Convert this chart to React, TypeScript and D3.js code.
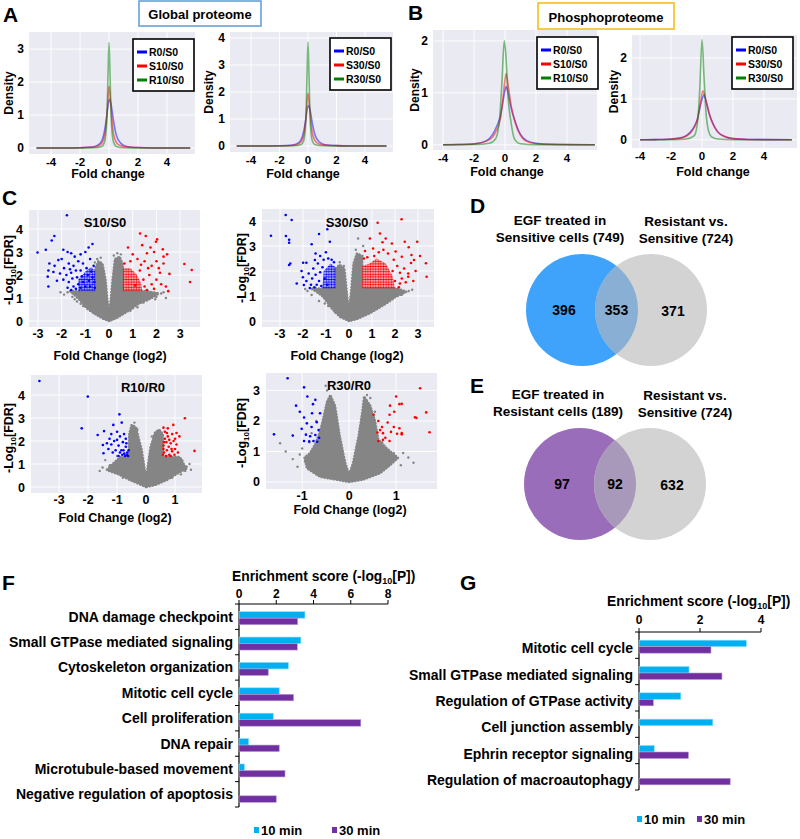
import React from 'react';
import * as d3 from 'd3';

type Pt = [number, number];

const FONT = "'Liberation Sans', Arial, Helvetica, sans-serif";
const BG = '#eaeaf2';
const LINE_COLORS = ['#0000ff', '#ff0000', '#008000'];
const BAR10 = '#00b0f0';
const BAR30 = '#7030a0';
const GRAY = '#858585';

// ---------- density curves (fold change, density) ----------
const aLeftR0: Pt[] = [[-5, 0], [-3, 0.003], [-2, 0.01], [-1.2, 0.03], [-0.8, 0.08], [-0.5, 0.22], [-0.3, 0.55], [-0.15, 1.0], [-0.05, 1.35], [0.05, 1.48], [0.15, 1.3], [0.3, 0.85], [0.5, 0.4], [0.8, 0.15], [1.2, 0.05], [2, 0.015], [3, 0.004], [5.6, 0]];
const aLeftS10: Pt[] = [[-5, 0], [-3, 0.003], [-2, 0.01], [-1, 0.03], [-0.6, 0.1], [-0.35, 0.3], [-0.2, 0.7], [-0.1, 1.3], [0, 1.88], [0.1, 1.45], [0.2, 0.85], [0.35, 0.35], [0.6, 0.12], [1, 0.05], [2, 0.015], [3, 0.004], [5.6, 0]];
const aLeftR10: Pt[] = [[-5, 0], [-2, 0.003], [-1, 0.01], [-0.5, 0.05], [-0.3, 0.2], [-0.15, 0.9], [-0.07, 2.2], [0, 3.2], [0.07, 2.2], [0.15, 0.9], [0.3, 0.2], [0.5, 0.05], [1, 0.01], [2, 0.003], [5.6, 0]];
const aRightR0: Pt[] = [[-5, 0], [-3, 0.003], [-2, 0.01], [-1.2, 0.03], [-0.8, 0.08], [-0.5, 0.22], [-0.3, 0.55], [-0.15, 1.0], [-0.05, 1.38], [0.05, 1.5], [0.15, 1.32], [0.3, 0.85], [0.5, 0.4], [0.8, 0.15], [1.2, 0.05], [2, 0.015], [3, 0.004], [5.5, 0]];
const aRightS30: Pt[] = [[-5, 0], [-3, 0.003], [-2, 0.01], [-1, 0.03], [-0.6, 0.1], [-0.35, 0.3], [-0.2, 0.75], [-0.1, 1.4], [0, 1.95], [0.1, 1.5], [0.2, 0.9], [0.35, 0.38], [0.6, 0.13], [1, 0.05], [2, 0.015], [3, 0.004], [5.5, 0]];
const aRightR30: Pt[] = [[-5, 0], [-2, 0.003], [-1, 0.01], [-0.5, 0.05], [-0.3, 0.2], [-0.15, 1.0], [-0.07, 2.6], [0, 3.85], [0.07, 2.6], [0.15, 1.0], [0.3, 0.2], [0.5, 0.05], [1, 0.01], [2, 0.003], [5.5, 0]];
const bLeftR0: Pt[] = [[-4, 0], [-3, 0.005], [-2, 0.02], [-1.2, 0.08], [-0.8, 0.2], [-0.5, 0.38], [-0.3, 0.55], [-0.15, 0.8], [0, 1.05], [0.07, 1.12], [0.2, 1.0], [0.4, 0.7], [0.65, 0.45], [1, 0.2], [1.4, 0.08], [2, 0.03], [3, 0.01], [5.8, 0]];
const bLeftS10: Pt[] = [[-4, 0], [-3, 0.005], [-2, 0.015], [-1, 0.1], [-0.6, 0.25], [-0.3, 0.5], [-0.15, 0.85], [0, 1.25], [0.07, 1.37], [0.2, 1.15], [0.4, 0.75], [0.64, 0.45], [1, 0.18], [1.3, 0.08], [2, 0.02], [3, 0.005], [5.8, 0]];
const bLeftR10: Pt[] = [[-4, 0], [-2, 0.005], [-1, 0.03], [-0.6, 0.12], [-0.35, 0.5], [-0.2, 1.2], [-0.05, 2.0], [0.05, 1.75], [0.2, 0.9], [0.38, 0.45], [0.6, 0.12], [1, 0.02], [2, 0.003], [5.8, 0]];
const bRightR0: Pt[] = [[-4, 0], [-3, 0.005], [-2, 0.02], [-1.2, 0.07], [-0.8, 0.17], [-0.5, 0.33], [-0.3, 0.5], [-0.1, 0.85], [0.05, 1.05], [0.12, 1.1], [0.25, 0.95], [0.45, 0.65], [0.7, 0.4], [1, 0.2], [1.5, 0.07], [2, 0.03], [3, 0.008], [5.8, 0]];
const bRightS30: Pt[] = [[-4, 0], [-3, 0.005], [-2, 0.02], [-1.2, 0.06], [-0.8, 0.15], [-0.5, 0.3], [-0.3, 0.5], [-0.1, 0.9], [0.05, 1.2], [0.15, 1.12], [0.3, 0.9], [0.5, 0.6], [0.75, 0.35], [1, 0.2], [1.5, 0.08], [2, 0.03], [3, 0.008], [5.8, 0]];
const bRightR30: Pt[] = [[-4, 0], [-2, 0.005], [-1, 0.02], [-0.5, 0.1], [-0.3, 0.4], [-0.15, 1.2], [0, 2.45], [0.12, 1.6], [0.25, 0.7], [0.4, 0.25], [0.6, 0.08], [1, 0.02], [2, 0.003], [5.8, 0]];

// ---------- volcano plots (log2 FC, -log10 FDR) ----------
const s10Cloud: Pt[] = [[0, 0], [-0.25, 0.1], [-0.52, 0.26], [-0.94, 0.55], [-1.22, 0.9], [-1.45, 1.12], [-1.65, 1.3], [-0.58, 1.3], [-0.58, 2.3], [-0.45, 2.6], [-0.28, 2.5], [-0.15, 1.8], [-0.07, 0.9], [0, 0.38], [0.07, 0.9], [0.15, 1.8], [0.25, 2.7], [0.45, 2.8], [0.58, 2.45], [0.58, 1.3], [1.6, 1.3], [2.1, 1.2], [1.8, 1.0], [1.3, 0.78], [0.75, 0.4], [0.3, 0.12]];
const s10Gray: Pt[] = [[-1.75, 1.25], [-1.55, 1.05], [-1.35, 0.85], [-1.1, 0.65], [-0.8, 0.45], [-1.9, 1.15], [2.2, 1.2], [2.0, 1.05], [1.6, 0.9], [1.2, 0.6], [0.9, 0.45], [-0.35, 2.75], [0.35, 2.95], [0.2, 2.85], [-0.5, 2.7], [2.4, 1.0], [1.75, 1.2], [-1.45, 0.95], [-1.2, 0.75], [-0.65, 0.35], [1.45, 0.8], [1.0, 0.55], [0.55, 0.3], [-2.05, 1.25], [2.3, 1.25], [1.95, 0.95], [-0.6, 2.55], [0.5, 2.9]];
const s10BlueCore: Pt[] = [[-1.3, 1.3], [-0.58, 1.3], [-0.58, 2.15], [-0.75, 2.35], [-1.0, 2.15], [-1.3, 1.8]];
const s10RedCore: Pt[] = [[0.58, 1.3], [1.4, 1.3], [1.35, 1.65], [1.15, 2.05], [0.9, 2.3], [0.58, 2.3]];
const s10Blue: Pt[] = [[-1.78, 4.6], [-2.31, 3.7], [-2.42, 3.5], [-3.02, 2.98], [-2.67, 3.1], [-1.93, 3.1], [-1.75, 3.0], [-0.7, 3.35], [-0.86, 3.2], [-2.52, 2.5], [-2.56, 2.2], [-2.59, 1.93], [-2.56, 1.5], [-2.14, 2.65], [-2.3, 2.4], [-2.07, 2.07], [-1.93, 1.8], [-2.2, 1.75], [-1.6, 2.95], [-1.45, 2.8], [-1.2, 2.9], [-1.0, 3.0], [-1.3, 2.6], [-1.7, 2.5], [-1.9, 2.3], [-1.5, 2.4], [-1.1, 2.5], [-0.8, 2.7], [-0.65, 2.4], [-1.8, 2.0], [-1.6, 2.1], [-1.4, 2.2], [-1.2, 2.2], [-0.95, 2.3], [-0.75, 2.15], [-1.7, 1.7], [-1.55, 1.85], [-1.35, 1.9], [-1.15, 1.95], [-0.9, 2.0], [-0.7, 1.9], [-1.75, 1.45], [-1.5, 1.5], [-1.3, 1.6], [-1.1, 1.7], [-0.85, 1.75], [-0.62, 1.7], [-1.6, 1.35], [-1.4, 1.4], [-1.2, 1.45], [-1.0, 1.5], [-0.8, 1.5], [-0.6, 1.45], [-2.35, 2.13], [-2.0, 2.7], [-1.65, 2.25]];
const s10Red: Pt[] = [[1.31, 3.81], [1.55, 3.7], [1.98, 3.45], [2.03, 3.55], [2.27, 3.12], [1.9, 3.0], [1.6, 2.95], [1.75, 3.2], [2.3, 2.8], [2.45, 2.9], [2.3, 2.5], [2.55, 2.05], [2.15, 2.1], [1.8, 2.4], [1.5, 2.6], [1.2, 2.7], [1.0, 2.9], [0.8, 3.2], [1.3, 2.2], [1.7, 2.0], [2.0, 1.8], [2.4, 1.5], [2.5, 1.3], [1.5, 1.5], [1.8, 1.6], [2.2, 1.6], [1.45, 1.8], [1.1, 1.55], [0.65, 2.5], [0.9, 2.6], [3.18, 2.48], [3.49, 2.22], [3.42, 1.7], [1.65, 2.3], [2.0, 2.6], [1.4, 3.3], [1.6, 1.35], [1.9, 1.4], [2.1, 2.3], [1.35, 2.45]];

const s30Cloud: Pt[] = [[0, 0], [-0.4, 0.17], [-0.75, 0.51], [-1.12, 0.97], [-1.45, 1.2], [-1.65, 1.3], [-0.58, 1.3], [-0.58, 2.1], [-0.4, 2.25], [-0.2, 2.1], [-0.1, 1.2], [0, 0.4], [0.1, 1.2], [0.2, 2.3], [0.35, 2.7], [0.58, 2.6], [0.58, 1.3], [2.1, 1.3], [2.5, 1.17], [2.0, 0.95], [1.64, 0.71], [0.91, 0.31], [0.33, 0.07]];
const s30Gray: Pt[] = [[-1.62, 1.04], [-1.8, 1.2], [-1.3, 0.8], [-0.22, 2.2], [0.4, 3.3], [0.62, 3.0], [2.6, 1.2], [2.3, 1.05], [1.9, 0.9], [1.3, 0.55], [-0.9, 0.6], [-0.4, 2.35], [0.3, 2.85], [-1.05, 0.7], [-0.6, 0.35], [1.1, 0.45], [0.6, 0.25], [1.75, 0.9], [2.2, 1.2], [-1.9, 1.28], [2.75, 1.25]];
const s30BlueCore: Pt[] = [[-1.15, 1.3], [-0.58, 1.3], [-0.58, 2.15], [-0.8, 2.3], [-1.1, 2.0]];
const s30RedCore: Pt[] = [[0.58, 1.3], [2.0, 1.3], [1.9, 1.8], [1.6, 2.3], [1.2, 2.5], [0.9, 2.3], [0.58, 2.2]];
const s30Blue: Pt[] = [[-2.75, 4.24], [-3.39, 3.41], [-2.74, 3.4], [-2.49, 4.04], [-2.6, 3.25], [-2.6, 3.13], [-2.6, 2.24], [-2.55, 2.3], [-2.27, 1.5], [-1.99, 2.33], [-1.85, 2.33], [-2.06, 2.0], [-1.96, 1.44], [-1.7, 1.32], [-1.48, 2.44], [-1.62, 3.07], [-1.45, 2.7], [-1.3, 3.48], [-0.94, 3.67], [-0.83, 3.17], [-1.75, 1.9], [-1.6, 1.7], [-1.55, 2.1], [-1.35, 2.3], [-1.25, 2.6], [-1.1, 2.45], [-1.0, 2.75], [-0.9, 2.5], [-0.75, 2.45], [-1.3, 1.6], [-1.4, 1.45], [-1.2, 1.4], [-1.25, 1.95], [-1.05, 1.7], [-0.65, 2.35], [-1.5, 1.35], [-1.85, 1.6], [-2.0, 1.75], [-1.15, 2.15], [-0.95, 1.45], [-1.45, 1.85], [-1.65, 1.45]];
const s30Red: Pt[] = [[1.25, 3.93], [2.29, 4.07], [1.46, 3.15], [1.87, 3.1], [2.43, 3.17], [2.03, 2.78], [2.3, 2.57], [2.22, 1.93], [2.58, 1.9], [2.47, 1.55], [2.17, 1.35], [0.91, 3.3], [2.97, 3.17], [3.09, 2.6], [2.83, 2.44], [2.7, 2.32], [3.35, 2.31], [3.38, 1.77], [2.58, 1.77], [2.22, 1.5], [2.72, 2.64], [1.7, 2.7], [1.5, 2.85], [1.3, 2.75], [1.1, 2.6], [0.8, 2.55], [0.65, 2.5], [1.95, 2.45], [2.1, 2.2], [2.4, 2.1], [2.0, 1.6], [2.3, 1.7], [1.9, 2.0], [1.05, 2.9], [1.6, 3.3], [1.35, 3.5], [2.6, 2.95], [0.7, 2.8], [2.8, 1.6], [2.9, 2.0]];

const r10Cloud: Pt[] = [[0, 0], [-0.55, 0.3], [-0.95, 0.55], [-1.36, 0.74], [-1.13, 1.03], [-0.9, 1.3], [-0.6, 1.3], [-0.58, 2.3], [-0.5, 2.7], [-0.35, 2.6], [-0.15, 1.6], [-0.05, 0.8], [0, 0.35], [0.05, 0.8], [0.15, 1.7], [0.3, 2.35], [0.45, 2.5], [0.58, 2.3], [0.58, 1.3], [1.17, 1.3], [1.3, 1.0], [1.4, 0.81], [1.1, 0.6], [0.71, 0.3], [0.3, 0.08]];
const r10Gray: Pt[] = [[-1.41, 1.17], [-1.14, 0.83], [1.4, 0.88], [1.35, 0.7], [-1.6, 0.7], [-0.45, 2.65], [0.37, 2.4], [-1.25, 0.95], [1.5, 1.0], [1.25, 1.15], [-0.3, 2.5], [0.2, 2.2], [-0.9, 1.2], [-1.0, 1.35], [-1.5, 0.85], [-0.8, 0.4], [0.9, 0.4], [1.2, 0.55], [1.55, 0.75], [-0.4, 2.8]];
const r10BlueCore: Pt[] = [];
const r10RedCore: Pt[] = [];
const r10Blue: Pt[] = [[-3.68, 4.61], [-2.01, 3.93], [-2.22, 2.55], [-1.67, 2.26], [-1.45, 2.43], [-0.92, 3.16], [-0.84, 2.8], [-1.13, 2.7], [-1.49, 1.83], [-1.47, 1.47], [-1.26, 2.1], [-1.2, 1.85], [-1.1, 2.0], [-1.0, 2.05], [-0.95, 1.8], [-0.9, 2.2], [-0.85, 1.6], [-0.8, 1.95], [-0.75, 1.45], [-0.7, 1.75], [-0.65, 1.5], [-0.62, 1.35], [-0.72, 1.35], [-0.82, 1.4], [-0.9, 1.5], [-1.05, 1.6], [-1.15, 1.5], [-1.3, 1.65], [-0.7, 2.1], [-0.78, 1.6], [-0.68, 1.9], [-0.95, 1.35], [-1.0, 2.4], [-1.2, 2.3], [-0.6, 1.6], [-0.66, 1.4], [-1.35, 1.9], [-0.76, 2.3]];
const r10Red: Pt[] = [[1.34, 2.99], [1.67, 1.57], [0.94, 2.7], [0.6, 2.58], [0.65, 2.4], [0.75, 2.2], [0.9, 2.3], [1.0, 2.1], [1.05, 1.85], [0.85, 1.9], [0.7, 1.95], [0.6, 1.8], [0.62, 1.5], [0.72, 1.6], [0.8, 1.4], [0.9, 1.55], [1.0, 1.65], [0.68, 1.35], [0.58, 1.4], [0.78, 1.75], [0.95, 2.0], [1.1, 1.5], [0.65, 2.1], [0.85, 1.35], [0.7, 1.35], [0.62, 1.95], [0.8, 2.05], [1.05, 2.35], [0.75, 2.55], [0.88, 1.65], [0.98, 1.4], [0.6, 1.65], [1.15, 2.2], [0.72, 2.35]];

const r30Cloud: Pt[] = [[0, 0], [-0.62, 0.17], [-0.9, 0.45], [-0.95, 0.8], [-0.83, 0.95], [-0.72, 1.25], [-0.62, 1.65], [-0.55, 2.09], [-0.47, 2.63], [-0.4, 2.85], [-0.3, 2.5], [-0.2, 1.5], [-0.08, 0.6], [0, 0.25], [0.08, 0.6], [0.2, 1.5], [0.28, 2.3], [0.32, 2.8], [0.45, 2.5], [0.55, 2.0], [0.62, 1.4], [0.8, 1.1], [1.04, 0.79], [0.87, 0.55], [0.66, 0.29], [0.3, 0.08]];
const r30Gray: Pt[] = [[-1.47, 1.27], [-1.35, 1.0], [-0.94, 0.67], [1.26, 0.8], [1.37, 0.63], [-0.47, 3.0], [0.38, 2.85], [0.45, 2.75], [-1.05, 0.9], [1.15, 0.95], [-0.85, 1.3], [-0.5, 3.15], [-1.0, 1.1], [0.7, 1.3], [0.55, 2.3], [-1.1, 0.5], [-0.8, 1.6], [-0.7, 2.0], [1.1, 0.55], [0.95, 0.95], [-1.2, 0.75]];
const r30BlueCore: Pt[] = [];
const r30RedCore: Pt[] = [];
const r30Blue: Pt[] = [[-1.31, 3.4], [-0.96, 3.1], [-1.6, 1.56], [-1.13, 2.5], [-1.2, 1.52], [-0.89, 2.8], [-0.72, 2.69], [-0.77, 2.55], [-0.96, 2.11], [-0.9, 1.92], [-0.79, 2.25], [-0.62, 2.25], [-0.69, 1.96], [-1.01, 1.74], [-0.72, 1.54], [-0.76, 1.34], [-0.96, 1.34], [-0.85, 1.33], [-0.68, 1.32], [-0.64, 1.45], [-0.83, 1.5], [-0.92, 1.55], [-0.8, 1.8], [-0.65, 1.7], [-1.05, 2.3]];
const r30Red: Pt[] = [[1.0, 2.8], [1.07, 2.55], [0.87, 2.5], [0.96, 2.3], [0.86, 2.2], [0.52, 2.2], [0.62, 2.0], [0.7, 1.8], [0.82, 1.95], [0.66, 1.7], [0.72, 1.6], [0.6, 1.62], [0.89, 1.64], [0.95, 1.8], [1.02, 1.58], [1.07, 1.76], [1.12, 1.56], [0.77, 1.45], [0.86, 1.34], [0.62, 1.34], [0.72, 1.38], [1.51, 3.07], [1.64, 2.28], [1.4, 2.12], [1.43, 2.1], [1.71, 1.63], [1.12, 1.6], [1.12, 2.56]];

// ---------- Venn counts ----------
const vennD = [396, 353, 371];
const vennE = [97, 92, 632];

// ---------- GO enrichment (-log10 P) ----------
const fTerms = ['DNA damage checkpoint', 'Small GTPase mediated signaling', 'Cytoskeleton organization', 'Mitotic cell cycle', 'Cell proliferation', 'DNA repair', 'Microtubule-based movement', 'Negative regulation of apoptosis'];
const f10 = [3.54, 3.32, 2.65, 2.16, 1.84, 0.52, 0.29, 0];
const f30 = [3.15, 3.13, 1.57, 2.93, 6.54, 2.16, 2.47, 2.0];
const fTicks = [0, 2, 4, 6, 8];
const gTerms = ['Mitotic cell cycle', 'Small GTPase mediated signaling', 'Regulation of GTPase activity', 'Cell junction assembly', 'Ephrin receptor signaling', 'Regulation of macroautophagy'];
const g10 = [3.52, 1.64, 1.37, 2.42, 0.5, 0];
const g30 = [2.36, 2.72, 0.47, 0, 1.62, 2.99];
const gTicks = [0, 2, 4];

const B = { fontFamily: FONT, fontWeight: 700 } as const;

function Density({ bx, by, xDom, yDom, yTicks, series, labels, legend, yLabX, xLab }: any) {
  const x = d3.scaleLinear().domain(xDom).range(bx);
  const y = d3.scaleLinear().domain(yDom).range([by[1], by[0]]);
  const line = d3.line<Pt>().x(d => x(d[0])).y(d => y(d[1])).curve(d3.curveMonotoneX);
  const xTicks = [-4, -2, 0, 2, 4];
  return (
    <g>
      <rect x={bx[0]} y={by[0]} width={bx[1] - bx[0]} height={by[1] - by[0]} fill={BG} />
      {xTicks.map(t => <line key={'gx' + t} x1={x(t)} x2={x(t)} y1={by[0]} y2={by[1]} stroke="#fff" strokeWidth={0.9} />)}
      {yTicks.map((t: number) => <line key={'gy' + t} x1={bx[0]} x2={bx[1]} y1={y(t)} y2={y(t)} stroke="#fff" strokeWidth={0.9} />)}
      {series.map((s: Pt[], i: number) => (
        <path key={i} d={line(s) || ''} fill="none" stroke={LINE_COLORS[i]} strokeOpacity={0.5} strokeWidth={1.6} />
      ))}
      {xTicks.map(t => <text key={'tx' + t} x={x(t)} y={by[1] + 11.5} textAnchor="middle" fontSize={11.5} {...B}>{t}</text>)}
      {yTicks.map((t: number) => <text key={'ty' + t} x={bx[0] - 5} y={y(t)} dy="0.36em" textAnchor="end" fontSize={12} {...B}>{t}</text>)}
      <text transform={`translate(${yLabX},${(by[0] + by[1]) / 2}) rotate(-90)`} dy="0.36em" textAnchor="middle" fontSize={12} {...B}>Density</text>
      <text x={xLab[0]} y={xLab[1] + 5.5} textAnchor="middle" fontSize={12.5} {...B}>Fold change</text>
      <rect x={legend[0]} y={legend[1]} width={61} height={52} fill="#fff" stroke="#000" strokeWidth={1.6} />
      {labels.map((l: string, i: number) => (
        <g key={l}>
          <line x1={legend[0] + 4} x2={legend[0] + 14} y1={legend[1] + 13 + i * 14} y2={legend[1] + 13 + i * 14} stroke={LINE_COLORS[i]} strokeWidth={3} />
          <text x={legend[0] + 16} y={legend[1] + 13 + i * 14} dy="0.36em" fontSize={10.5} {...B}>{l}</text>
        </g>
      ))}
    </g>
  );
}

function Volcano({ c }: any) {
  const x = d3.scaleLinear().domain(c.xDom).range(c.bx);
  const y = d3.scaleLinear().domain(c.yDom).range([c.by[1], c.by[0]]);
  const poly = d3.line<Pt>().x(d => x(d[0])).y(d => y(d[1])).curve(d3.curveLinearClosed);
  const dots = (pts: Pt[], col: string, r: number, k: string) =>
    pts.map((p, i) => <circle key={k + i} cx={x(p[0])} cy={y(p[1])} r={r} fill={col} />);
  return (
    <g>
      <rect x={c.bx[0]} y={c.by[0]} width={c.bx[1] - c.bx[0]} height={c.by[1] - c.by[0]} fill={BG} />
      {c.xTicks.map((t: number) => <line key={'gx' + t} x1={x(t)} x2={x(t)} y1={c.by[0]} y2={c.by[1]} stroke="#fff" strokeWidth={0.9} />)}
      {c.yTicks.map((t: number) => <line key={'gy' + t} x1={c.bx[0]} x2={c.bx[1]} y1={y(t)} y2={y(t)} stroke="#fff" strokeWidth={0.9} />)}
      <path d={poly(c.cloud) || ''} fill={GRAY} stroke={GRAY} strokeWidth={1} strokeLinejoin="round" />
      <path d={poly(c.cloud) || ''} fill="none" stroke={GRAY} strokeWidth={2.6} strokeDasharray="0.1 3" strokeLinecap="round" />
      {dots(c.gray, GRAY, 1.2, 'g')}
      {c.blueCore.length > 0 && <path d={poly(c.blueCore) || ''} fill="url(#dotBlue)" />}
      {c.redCore.length > 0 && <path d={poly(c.redCore) || ''} fill="url(#dotRed)" />}
      {dots(c.blue, '#0000ff', 1.3, 'b')}
      {dots(c.red, '#ff0000', 1.3, 'r')}
      <text x={c.title[0]} y={c.title[1]} dy="0.36em" textAnchor="middle" fontSize={13} {...B}>{c.name}</text>
      {c.xTicks.map((t: number) => <text key={'tx' + t} x={x(t)} y={c.by[1] + 11} textAnchor="middle" fontSize={12.5} {...B}>{t}</text>)}
      {c.yTicks.map((t: number) => <text key={'ty' + t} x={c.bx[0] - 6} y={y(t)} dy="0.36em" textAnchor="end" fontSize={12.5} {...B}>{t}</text>)}
      <text transform={`translate(${c.yLab[0]},${c.yLab[1]}) rotate(-90)`} dy="0.36em" textAnchor="middle" fontSize={12.5} {...B}>
        -Log<tspan fontSize={8} dy={3}>10</tspan><tspan dy={-3}>[FDR]</tspan>
      </text>
      <text x={c.xLab[0]} y={c.xLab[1]} dy="0.36em" textAnchor="middle" fontSize={12.5} {...B}>Fold Change (log2)</text>
    </g>
  );
}

function Venn({ cx, cy, fill, overlap, counts, titleL, titleR, id }: any) {
  const r = 56;
  return (
    <g>
      <defs>
        <clipPath id={id}><circle cx={cx[0]} cy={cy} r={r} /></clipPath>
      </defs>
      <circle cx={cx[0]} cy={cy} r={r} fill={fill} />
      <circle cx={cx[1]} cy={cy} r={r} fill="#d3d3d3" />
      <circle cx={cx[1]} cy={cy} r={r} fill={overlap} clipPath={`url(#${id})`} />
      <text x={cx[0] - 18} y={cy} dy="0.36em" textAnchor="middle" fontSize={14} {...B}>{counts[0]}</text>
      <text x={(cx[0] + cx[1]) / 2} y={cy} dy="0.36em" textAnchor="middle" fontSize={14} {...B}>{counts[1]}</text>
      <text x={cx[1] + 22} y={cy + 1} dy="0.36em" textAnchor="middle" fontSize={14} {...B}>{counts[2]}</text>
      {titleL.map((t: string, i: number) => <text key={'l' + i} x={cx[0] - 22} y={cy - 90 + i * 17} dy="0.36em" textAnchor="middle" fontSize={13.5} {...B}>{t}</text>)}
      {titleR.map((t: string, i: number) => <text key={'r' + i} x={cx[1] + 35} y={cy - 89 + i * 17} dy="0.36em" textAnchor="middle" fontSize={13.5} {...B}>{t}</text>)}
    </g>
  );
}

function Enrich({ terms, v10, v30, ticks, xr, yr, labelX, labelDy, tickY, title, legend }: any) {
  const x = d3.scaleLinear().domain([ticks[0], ticks[ticks.length - 1]]).range(xr);
  const band = d3.scaleBand<string>().domain(terms).range(yr);
  const bw = band.bandwidth();
  return (
    <g>
      <text x={title[0]} y={title[1]} dy="0.36em" fontSize={13.8} {...B}>
        Enrichment score (-log<tspan fontSize={9} dy={3}>10</tspan><tspan dy={-3}>[P])</tspan>
      </text>
      {ticks.map((t: number) => (
        <g key={t}>
          <text x={x(t)} y={tickY} dy="0.36em" textAnchor="middle" fontSize={12} {...B}>{t}</text>
          <line x1={x(t)} x2={x(t)} y1={yr[0] - 4} y2={yr[0]} stroke="#000" strokeWidth={1} />
        </g>
      ))}
      <line x1={xr[0]} x2={xr[1]} y1={yr[0]} y2={yr[0]} stroke="#000" strokeWidth={1.2} />
      <line x1={xr[0]} x2={xr[0]} y1={yr[0]} y2={yr[1]} stroke="#000" strokeWidth={1.2} />
      {d3.range(terms.length + 1).map((i: number) => (
        <line key={'tk' + i} x1={xr[0] - 4} x2={xr[0]} y1={yr[0] + i * bw} y2={yr[0] + i * bw} stroke="#000" strokeWidth={1} />
      ))}
      {terms.map((t: string, i: number) => {
        const c = (band(t) || 0) + bw / 2;
        return (
          <g key={t}>
            {v10[i] > 0 && <rect x={x(0)} y={c - 5} width={x(v10[i]) - x(0)} height={6.5} fill={BAR10} stroke="#8fdcf8" strokeWidth={0.6} />}
            {v30[i] > 0 && <rect x={x(0)} y={c + 1.5} width={x(v30[i]) - x(0)} height={6.5} fill={BAR30} stroke="#b79ad0" strokeWidth={0.6} />}
            <text x={labelX} y={c + labelDy} dy="0.36em" textAnchor="end" fontSize={14} {...B}>{t}</text>
          </g>
        );
      })}
      <rect x={legend[0]} y={legend[2] - 3} width={5} height={6} fill={BAR10} />
      <text x={legend[0] + 7} y={legend[2]} dy="0.36em" fontSize={13} {...B}>10 min</text>
      <rect x={legend[1]} y={legend[2] - 3} width={5} height={6} fill={BAR30} />
      <text x={legend[1] + 7} y={legend[2]} dy="0.36em" fontSize={13} {...B}>30 min</text>
    </g>
  );
}

const volcanoes = [
  { name: 'S10/S0', bx: [29, 200], by: [210, 327], xDom: [-3.38, 3.84], yDom: [-0.26, 4.83], xTicks: [-3, -2, -1, 0, 1, 2, 3], yTicks: [0, 1, 2, 3, 4], cloud: s10Cloud, gray: s10Gray, blueCore: s10BlueCore, redCore: s10RedCore, blue: s10Blue, red: s10Red, title: [105, 222], yLab: [8, 270], xLab: [110, 355] },
  { name: 'S30/S0', bx: [262, 434], by: [209, 327], xDom: [-3.78, 3.7], yDom: [-0.24, 4.48], xTicks: [-3, -2, -1, 0, 1, 2, 3], yTicks: [0, 1, 2, 3, 4], cloud: s30Cloud, gray: s30Gray, blueCore: s30BlueCore, redCore: s30RedCore, blue: s30Blue, red: s30Red, title: [347, 222], yLab: [241, 268], xLab: [347, 355] },
  { name: 'R10/R0', bx: [31, 202], by: [375, 493], xDom: [-3.97, 1.93], yDom: [-0.26, 4.87], xTicks: [-3, -2, -1, 0, 1], yTicks: [0, 1, 2, 3, 4], cloud: r10Cloud, gray: r10Gray, blueCore: r10BlueCore, redCore: r10RedCore, blue: r10Blue, red: r10Red, title: [143, 387], yLab: [8, 438], xLab: [115, 517] },
  { name: 'R30/R0', bx: [266, 437], by: [373, 489], xDom: [-1.77, 1.87], yDom: [-0.23, 3.57], xTicks: [-1, 0, 1], yTicks: [0, 1, 2, 3], cloud: r30Cloud, gray: r30Gray, blueCore: r30BlueCore, redCore: r30RedCore, blue: r30Blue, red: r30Red, title: [349, 385], yLab: [241, 433], xLab: [350, 509] },
];

export default function App() {
  return (
    <svg width={800} height={839} style={{ position: 'absolute', left: 0, top: 0, background: '#fff' }}>
      <defs>
        <pattern id="dotBlue" width={2.6} height={2.6} patternUnits="userSpaceOnUse">
          <circle cx={1.3} cy={1.3} r={1.15} fill="#0000ff" />
        </pattern>
        <pattern id="dotRed" width={2.6} height={2.6} patternUnits="userSpaceOnUse">
          <circle cx={1.3} cy={1.3} r={1.15} fill="#ff0000" />
        </pattern>
      </defs>
      <rect width={800} height={839} fill="#fff" />
      {/* panel letters */}
      {[['A', 3, 22], ['B', 408, 20], ['C', 2, 205], ['D', 470, 213], ['E', 470, 393], ['F', 2, 590], ['G', 460, 590]].map(([l, px, py]) => (
        <text key={l as string} x={px as number} y={py as number} fontSize={21} {...B}>{l}</text>
      ))}
      <rect x={139} y={1} width={122} height={25} fill="#fff" stroke="#5b9bd5" strokeWidth={1.5} />
      <text x={200} y={14} dy="0.36em" textAnchor="middle" fontSize={13} {...B}>Global proteome</text>
      <rect x={538} y={3} width={136} height={26} fill="#fff" stroke="#f5b90f" strokeWidth={1.5} />
      <text x={606} y={17} dy="0.36em" textAnchor="middle" fontSize={13} {...B}>Phosphoproteome</text>

      <Density bx={[29, 195]} by={[32, 154]} xDom={[-5.52, 5.93]} yDom={[-0.18, 3.52]} yTicks={[0, 1, 2, 3]}
        series={[aLeftR0, aLeftS10, aLeftR10]} labels={['R0/S0', 'S10/S0', 'R10/S0']} legend={[133, 39]} yLabX={9} xLab={[108, 172]} />
      <Density bx={[230, 393]} by={[32, 152]} xDom={[-5.47, 5.96]} yDom={[-0.22, 4.22]} yTicks={[0, 1, 2, 3, 4]}
        series={[aRightR0, aRightS30, aRightR30]} labels={['R0/S0', 'S30/S0', 'R30/S0']} legend={[330, 38]} yLabX={209} xLab={[303, 172]} />
      <Density bx={[433, 597]} by={[30, 150]} xDom={[-4.65, 5.94]} yDom={[-0.1, 2.21]} yTicks={[0, 1, 2]}
        series={[bLeftR0, bLeftS10, bLeftR10]} labels={['R0/S0', 'S10/S0', 'R10/S0']} legend={[537, 37]} yLabX={415} xLab={[507, 170]} />
      <Density bx={[632, 797]} by={[35, 148]} xDom={[-4.52, 6.13]} yDom={[-0.2, 2.56]} yTicks={[0, 1, 2]}
        series={[bRightR0, bRightS30, bRightR30]} labels={['R0/S0', 'S30/S0', 'R30/S0']} legend={[732, 37]} yLabX={614} xLab={[713, 170]} />

      {volcanoes.map(v => <Volcano key={v.name} c={v} />)}

      <Venn id="clipD" cx={[582, 651]} cy={310} fill="#3fa3fb" overlap="#89afd4" counts={vennD}
        titleL={['EGF treated in', 'Sensitive cells (749)']} titleR={['Resistant vs.', 'Sensitive (724)']} />
      <Venn id="clipE" cx={[580, 650]} cy={484} fill="#9a6dba" overlap="#a898b9" counts={vennE}
        titleL={['EGF treated in', 'Resistant cells (189)']} titleR={['Resistant vs.', 'Sensitive (724)']} />

      <Enrich terms={fTerms} v10={f10} v30={f30} ticks={fTicks} xr={[239, 388]} yr={[604, 807]} labelX={233} labelDy={0}
        tickY={593.5} title={[232, 576]} legend={[254, 332, 830]} />
      <Enrich terms={gTerms} v10={g10} v30={g30} ticks={gTicks} xr={[639, 761]} yr={[632, 790]} labelX={633} labelDy={3}
        tickY={619.5} title={[607, 601]} legend={[637, 697, 819]} />
    </svg>
  );
}
